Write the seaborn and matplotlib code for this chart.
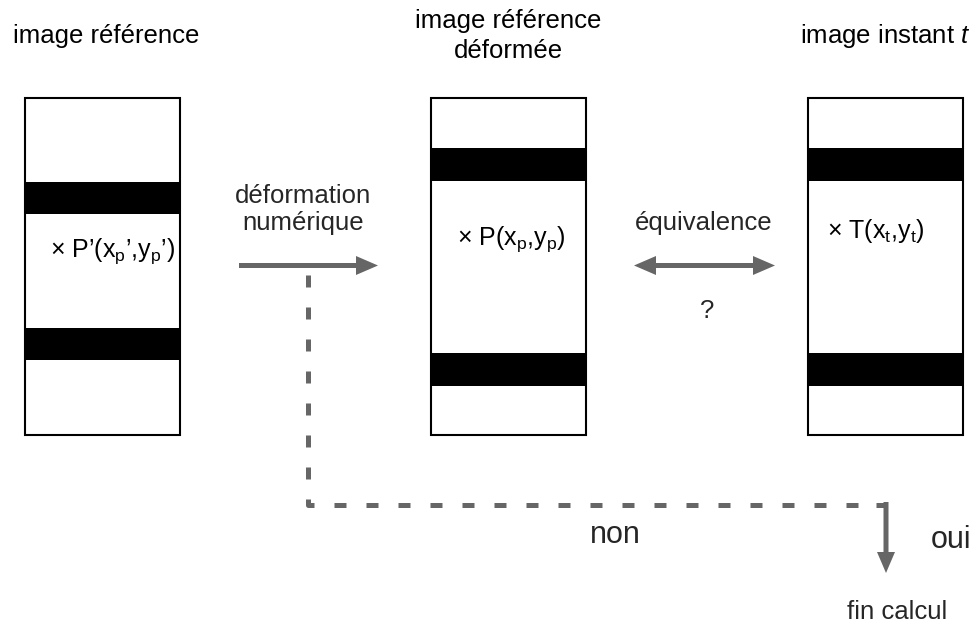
import numpy as np
import matplotlib
matplotlib.use("Agg")
import matplotlib.pyplot as plt
import seaborn as sns
from matplotlib.patches import Rectangle, FancyArrow

sns.set_theme(style="white")
plt.rcParams['font.family'] = ['Liberation Sans', 'DejaVu Sans']
plt.rcParams['mathtext.fontset'] = 'custom'
plt.rcParams['mathtext.rm'] = 'Liberation Sans'
plt.rcParams['mathtext.it'] = 'Liberation Sans:italic'

# three images (left edge), each with two black stripes (top, bottom)
box_left = [25, 431, 808]
stripes = [[(182, 214), (328, 360)],
           [(148, 181), (353, 386)],
           [(148, 181), (353, 386)]]
titles = [["image référence"],
          ["image référence", "déformée"],
          ["image instant $\\mathit{t}$"]]
points = ["× P’(x$_\\mathregular{p}$’,y$_\\mathregular{p}$’)",
          "× P(x$_\\mathregular{p}$,y$_\\mathregular{p}$)",
          "× T(x$_\\mathregular{t}$,y$_\\mathregular{t}$)"]
arrow_labels = [["déformation", "numérique"], ["équivalence"]]

gray = "#666666"

fig = plt.figure(figsize=(9.73, 6.26), dpi=100)
ax = fig.add_axes([0, 0, 1, 1])
ax.set_xlim(0, 973)
ax.set_ylim(626, 0)
ax.axis('off')

box_w, box_top, box_h = 155, 98, 337
title_base = [[43], [28, 58], [43]]
point_pos = [(50, 257), (457, 245), (827, 238)]

for i, x0 in enumerate(box_left):
    ax.add_patch(Rectangle((x0, box_top), box_w, box_h, fill=False,
                           ec='black', lw=1.5, zorder=3))
    for y0, y1 in stripes[i]:
        ax.add_patch(Rectangle((x0, y0), box_w, y1 - y0, fc='black',
                               ec='none', zorder=2))
    cx = x0 + box_w / 2 + (4 if i == 0 else 0)
    for line, yb in zip(titles[i], title_base[i]):
        ax.text(cx, yb, line, ha='center', va='baseline', fontsize=18.5,
                color='black')
    px, py = point_pos[i]
    ax.text(px, py, points[i], ha='left', va='baseline', fontsize=18,
            color='black')

# arrow labels
for line, yb in zip(arrow_labels[0], [203, 230]):
    ax.text(303, yb, line, ha='center', va='baseline', fontsize=18.5)
ax.text(704, 230, arrow_labels[1][0], ha='center', va='baseline', fontsize=18.5)
ax.text(707, 318, "?", ha='center', va='baseline', fontsize=18.5)
ax.text(615, 543, "non", ha='center', va='baseline', fontsize=22)
ax.text(931, 548, "oui", ha='left', va='baseline', fontsize=22)
ax.text(897, 619, "fin calcul", ha='center', va='baseline', fontsize=18.5)

akw = dict(width=5, head_width=19, head_length=22, length_includes_head=True,
           color=gray, lw=0, zorder=4)

# déformation numérique arrow
ax.add_patch(FancyArrow(239, 265.5, 139, 0, **akw))
# double-headed equivalence arrow
ax.add_patch(FancyArrow(705, 265.5, -71, 0, **akw))
ax.add_patch(FancyArrow(704, 265.5, 71, 0, **akw))

# dashed feedback loop
ax.plot([307.5, 307.5, 874], [275, 504.5, 504.5], color=gray, lw=3.6,
        ls=(0, (2.4, 4.0)), dash_capstyle='butt', solid_joinstyle='miter')
ax.plot([876, 886], [504.5, 504.5], color=gray, lw=3.6,
        solid_capstyle='butt')
ax.add_patch(FancyArrow(886, 502, 0, 71, width=5, head_width=18,
                        head_length=21, length_includes_head=True,
                        color=gray, lw=0, zorder=4))

fig.savefig("out.png", dpi=100, facecolor='white')
